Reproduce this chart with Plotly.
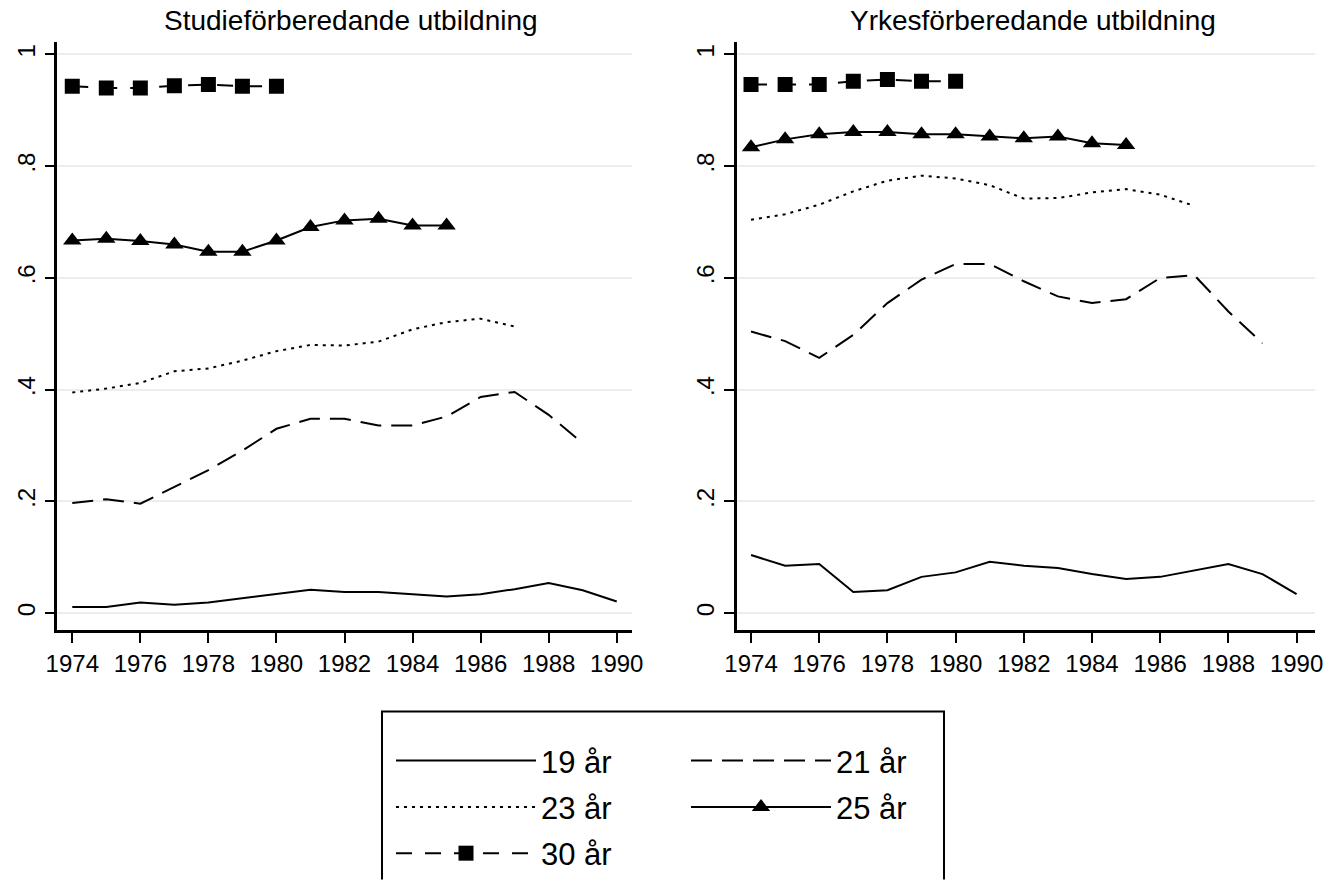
import plotly.graph_objects as go

W, H = 1329, 880

years = list(range(1974, 1991))
xtick_vals = list(range(1974, 1991, 2))
xtick_text = [str(v) for v in xtick_vals]
ytick_vals = [0, 0.2, 0.4, 0.6, 0.8, 1.0]
ytick_text = ["0", ".2", ".4", ".6", ".8", "1"]

panel_titles = ["Studieförberedande utbildning", "Yrkesförberedande utbildning"]
age_labels = ["19 år", "21 år", "23 år", "25 år", "30 år"]

# Studieförberedande utbildning (left panel)
stud_19 = [0.011, 0.011, 0.019, 0.015, 0.019, 0.027, 0.035, 0.042, 0.038, 0.038,
           0.034, 0.030, 0.034, 0.043, 0.054, 0.041, 0.021]
stud_21 = [0.197, 0.204, 0.196, 0.226, 0.256, 0.291, 0.330, 0.348, 0.348, 0.336,
           0.336, 0.352, 0.387, 0.396, 0.355, 0.304]
stud_23 = [0.395, 0.402, 0.412, 0.433, 0.438, 0.452, 0.469, 0.480, 0.479, 0.486,
           0.508, 0.521, 0.527, 0.513]
stud_25 = [0.667, 0.670, 0.666, 0.660, 0.647, 0.647, 0.667, 0.691, 0.703, 0.706,
           0.694, 0.694]
stud_30 = [0.943, 0.940, 0.940, 0.944, 0.946, 0.943, 0.943]

# Yrkesförberedande utbildning (right panel)
yrk_19 = [0.104, 0.085, 0.088, 0.038, 0.041, 0.065, 0.073, 0.092, 0.085, 0.081,
          0.070, 0.061, 0.065, 0.076, 0.088, 0.070, 0.034]
yrk_21 = [0.504, 0.487, 0.457, 0.498, 0.555, 0.597, 0.625, 0.625, 0.594, 0.567,
          0.555, 0.562, 0.600, 0.605, 0.540, 0.483]
yrk_23 = [0.704, 0.714, 0.731, 0.755, 0.774, 0.783, 0.778, 0.766, 0.742, 0.743,
          0.753, 0.759, 0.749, 0.729]
yrk_25 = [0.834, 0.848, 0.857, 0.861, 0.861, 0.857, 0.857, 0.853, 0.850, 0.853,
          0.841, 0.838]
yrk_30 = [0.946, 0.946, 0.946, 0.952, 0.955, 0.952, 0.952]

FONT = "Liberation Sans, Arial, sans-serif"

styles = {
    "19 år": dict(line=dict(color="black", width=2), mode="lines", legend="legend"),
    "21 år": dict(line=dict(color="black", width=2, dash="21px,10px"), mode="lines", legend="legend2"),
    "23 år": dict(line=dict(color="black", width=2, dash="3px,5px"), mode="lines", legend="legend"),
    "25 år": dict(line=dict(color="black", width=2), mode="lines+markers",
                  marker=dict(symbol="triangle-up", size=16, color="black"), legend="legend2"),
    "30 år": dict(line=dict(color="black", width=2, dash="16px,13px"), mode="lines+markers",
                  marker=dict(symbol="square", size=15, color="black"), legend="legend"),
}

panels = [
    ("x", "y", [stud_19, stud_21, stud_23, stud_25, stud_30], True),
    ("x2", "y2", [yrk_19, yrk_21, yrk_23, yrk_25, yrk_30], False),
]

fig = go.Figure()
for xa, ya, series, show in panels:
    for lab, vals in zip(age_labels, series):
        st = styles[lab]
        kw = dict(x=years[:len(vals)], y=vals, name=lab, xaxis=xa, yaxis=ya,
                  mode=st["mode"], line=st["line"], legendgroup=lab,
                  showlegend=show, legend=st["legend"], hoverinfo="skip")
        if "marker" in st:
            kw["marker"] = st["marker"]
        fig.add_trace(go.Scatter(**kw))

def px_x(p):
    return p / W

def px_y(p):
    return 1 - p / H

xaxis_common = dict(
    tickvals=xtick_vals, ticktext=xtick_text, showline=True, linecolor="black",
    linewidth=2.5, ticks="outside", ticklen=10, tickwidth=2, tickcolor="black",
    showgrid=False, zeroline=False, tickfont=dict(size=24, family=FONT, color="black"),
    automargin=False, fixedrange=True,
)
yaxis_common = dict(
    tickvals=ytick_vals, ticktext=ytick_text, tickangle=-90, showline=True,
    linecolor="black", linewidth=2.5, ticks="outside", ticklen=10, tickwidth=2,
    tickcolor="black", showgrid=True, gridcolor="#e8eff1", gridwidth=2,
    zeroline=False, tickfont=dict(size=24, family=FONT, color="black"),
    range=[-0.0307, 1.0222], domain=[px_y(645), px_y(43)], automargin=False,
    fixedrange=True, ticklabelstandoff=0,
)

legend_common = dict(
    xanchor="left", yanchor="top", orientation="v", traceorder="grouped",
    tracegroupgap=3, itemwidth=140, font=dict(size=31, family=FONT, color="black"),
    bgcolor="rgba(0,0,0,0)", borderwidth=0,
)

# open-bottom legend frame (the reference box runs off the bottom edge)
x0, x1, ytop, ybot = px_x(382), px_x(944), px_y(728), px_y(900)
frame_path = f"M {x0},{ybot} L {x0},{ytop} L {x1},{ytop} L {x1},{ybot}"

fig.update_layout(
    width=W, height=H,
    margin=dict(l=0, r=0, t=0, b=0),
    paper_bgcolor="white", plot_bgcolor="white",
    font=dict(family=FONT, color="black"),
    xaxis=dict(xaxis_common, domain=[px_x(57.3), px_x(631.7)], range=[1973.56, 1990.44], anchor="y"),
    yaxis=dict(yaxis_common, anchor="x"),
    xaxis2=dict(xaxis_common, domain=[px_x(736.7), px_x(1315)], range=[1973.58, 1990.54], anchor="y2"),
    yaxis2=dict(yaxis_common, anchor="x2"),
    legend=dict(legend_common, x=px_x(391), y=px_y(751)),
    legend2=dict(legend_common, x=px_x(686), y=px_y(751)),
    shapes=[dict(type="path", xref="paper", yref="paper", path=frame_path,
                 line=dict(color="black", width=2))],
    annotations=[
        dict(text=panel_titles[0], xref="paper", yref="paper", x=px_x(351), y=px_y(21),
             xanchor="center", yanchor="middle", showarrow=False,
             font=dict(size=28, family=FONT, color="black")),
        dict(text=panel_titles[1], xref="paper", yref="paper", x=px_x(1033), y=px_y(21),
             xanchor="center", yanchor="middle", showarrow=False,
             font=dict(size=28, family=FONT, color="black")),
    ],
)

fig.write_html("out.html", config={"displayModeBar": False},
               post_script="document.body.style.margin='0px';document.body.style.padding='0px';")
